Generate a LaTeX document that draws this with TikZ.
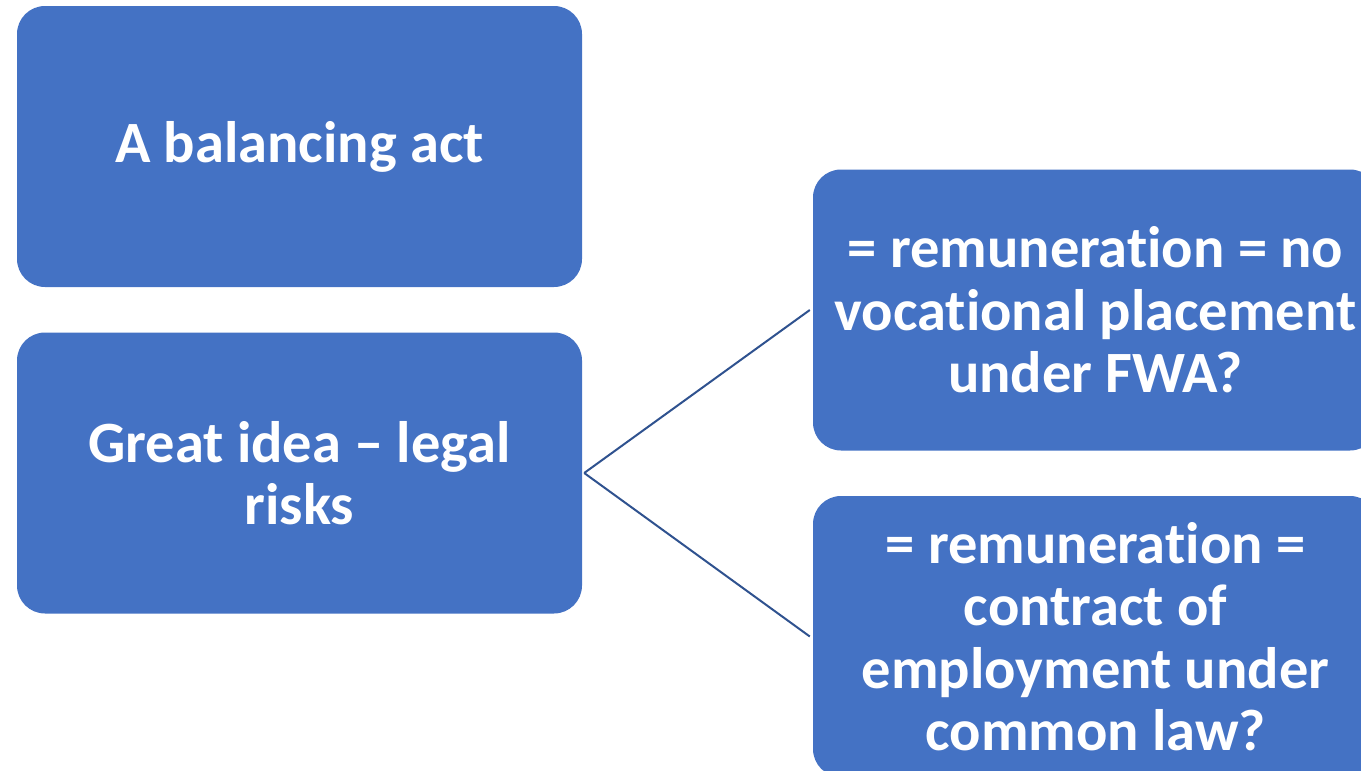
\documentclass[tikz,border=0pt]{standalone}
\usepackage{fontspec}
\setmainfont[Ligatures={NoCommon}]{Carlito}
\definecolor{boxblue}{HTML}{4472C4}
\definecolor{linkblue}{HTML}{2F528F}
\begin{document}
\begin{tikzpicture}[x=1pt,y=-1pt,
  box/.style={rectangle, rounded corners=28pt, fill=boxblue, draw=none,
    minimum width=565pt, minimum height=281pt, inner sep=0pt,
    text=white, align=center,
    font=\bfseries\fontsize{58.5}{62.5}\selectfont},
  link/.style={draw=linkblue, line width=2pt}]
\useasboundingbox (0,0) rectangle (1361,771);
\clip (0,0) rectangle (1361,771);
\node[box] (b1) at (299.5,146.5) {A balancing act};
\node[box] (b2) at (299.5,473) {Great idea -- legal\\risks};
\node[box] (b3) at (1095.5,310) {= remuneration = no\\vocational placement\\under FWA?};
\node[box] (b4) at (1095.5,636.5) {= remuneration =\\contract of\\employment under\\common law?};
\draw[link] ([xshift=2pt]b2.east) -- ([xshift=-3pt]b3.west);
\draw[link] ([xshift=2pt]b2.east) -- ([xshift=-3pt]b4.west);
\end{tikzpicture}
\end{document}
